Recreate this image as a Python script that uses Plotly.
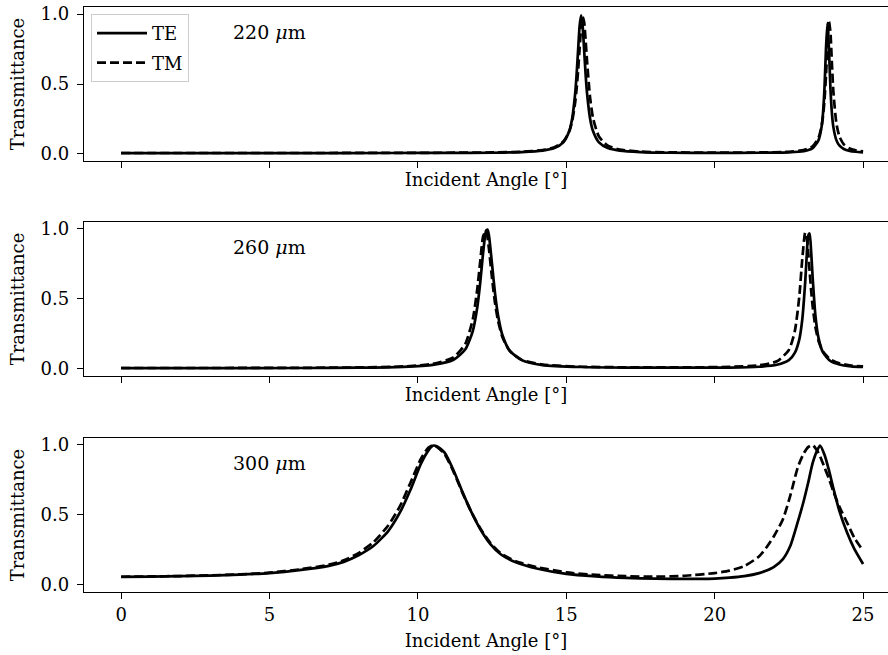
import plotly.graph_objects as go

# ---------------- data ----------------
angle_220 = [0, 3, 6, 9, 11, 12.5, 13.5, 14.2, 14.6, 14.9, 15.1, 15.2, 15.3, 15.35, 15.4, 15.45,
             15.5, 15.55, 15.6, 15.65, 15.7, 15.8, 15.9, 16.1, 16.4, 16.8, 17.5, 18.5, 20, 21.5,
             22.5, 23.0, 23.3, 23.5, 23.6, 23.65, 23.7, 23.75, 23.8, 23.85, 23.9, 23.95, 24.0,
             24.1, 24.2, 24.35, 24.55, 24.75, 25.0]
te_220 = [0.006, 0.006, 0.006, 0.007, 0.008, 0.009, 0.014, 0.024, 0.042, 0.083, 0.164, 0.256,
          0.433, 0.574, 0.748, 0.917, 0.991, 0.917, 0.748, 0.574, 0.433, 0.256, 0.164, 0.083,
          0.042, 0.024, 0.014, 0.009, 0.008, 0.009, 0.012, 0.020, 0.042, 0.099, 0.192, 0.292,
          0.471, 0.750, 0.936, 0.750, 0.471, 0.292, 0.192, 0.099, 0.061, 0.036, 0.022, 0.016,
          0.012]
tm_220 = [0.007, 0.007, 0.007, 0.008, 0.009, 0.011, 0.016, 0.028, 0.048, 0.089, 0.162, 0.237,
          0.369, 0.471, 0.601, 0.756, 0.901, 0.980, 0.944, 0.818, 0.661, 0.407, 0.258, 0.125,
          0.059, 0.032, 0.017, 0.012, 0.010, 0.011, 0.016, 0.028, 0.055, 0.116, 0.196, 0.269,
          0.383, 0.558, 0.786, 0.946, 0.870, 0.646, 0.444, 0.221, 0.127, 0.069, 0.039, 0.027,
          0.019]

angle_260 = [0, 3, 6, 8, 9.5, 10.5, 11.2, 11.6, 11.85, 12.0, 12.1, 12.2, 12.3, 12.35, 12.4, 12.5,
             12.6, 12.7, 12.85, 13.1, 13.5, 14.2, 15.5, 17, 19, 20.5, 21.5, 22.1, 22.5, 22.7,
             22.85, 22.95, 23.05, 23.1, 23.15, 23.2, 23.25, 23.3, 23.4, 23.5, 23.65, 23.9, 24.2,
             24.6, 25.0]
te_260 = [0.006, 0.006, 0.007, 0.009, 0.015, 0.029, 0.066, 0.141, 0.271, 0.439, 0.616, 0.833,
          0.989, 0.995, 0.945, 0.745, 0.538, 0.384, 0.241, 0.129, 0.063, 0.028, 0.014, 0.010,
          0.009, 0.010, 0.016, 0.030, 0.063, 0.115, 0.210, 0.351, 0.621, 0.804, 0.952, 0.968,
          0.839, 0.657, 0.370, 0.220, 0.118, 0.057, 0.032, 0.019, 0.014]
tm_260 = [0.007, 0.007, 0.008, 0.011, 0.018, 0.036, 0.083, 0.181, 0.355, 0.569, 0.767, 0.948,
          0.987, 0.934, 0.848, 0.645, 0.470, 0.345, 0.226, 0.127, 0.065, 0.031, 0.016, 0.012,
          0.011, 0.015, 0.026, 0.055, 0.136, 0.270, 0.514, 0.782, 0.974, 0.945, 0.837, 0.696,
          0.562, 0.449, 0.292, 0.200, 0.124, 0.068, 0.041, 0.025, 0.018]

angle_300 = [0, 1, 2, 3, 4, 5, 6, 7, 7.5, 8, 8.5, 9, 9.4, 9.75, 10.1, 10.35, 10.5, 10.65, 10.9,
             11.2, 11.5, 11.8, 12.1, 12.45, 12.8, 13.3, 14, 15, 16, 17, 18, 19, 20, 20.5, 21,
             21.5, 21.75, 22, 22.3, 22.55, 22.8, 23.0, 23.15, 23.3, 23.45, 23.55, 23.7, 23.85,
             24.0, 24.2, 24.45, 24.7, 25.0]
te_300 = [0.058, 0.060, 0.063, 0.067, 0.074, 0.085, 0.106, 0.137, 0.165, 0.212, 0.278, 0.385,
          0.520, 0.680, 0.865, 0.960, 0.995, 0.990, 0.945, 0.820, 0.665, 0.522, 0.400, 0.290,
          0.218, 0.162, 0.118, 0.080, 0.062, 0.051, 0.045, 0.043, 0.046, 0.052, 0.063, 0.085,
          0.104, 0.130, 0.185, 0.280, 0.450, 0.600, 0.730, 0.870, 0.960, 0.995, 0.930, 0.820,
          0.690, 0.530, 0.380, 0.260, 0.150]
tm_300 = [0.059, 0.061, 0.064, 0.069, 0.076, 0.088, 0.111, 0.145, 0.176, 0.228, 0.305, 0.425,
          0.565, 0.730, 0.900, 0.980, 0.998, 0.985, 0.935, 0.810, 0.660, 0.522, 0.405, 0.298,
          0.225, 0.170, 0.128, 0.090, 0.072, 0.063, 0.059, 0.066, 0.085, 0.103, 0.135, 0.205,
          0.270, 0.350, 0.470, 0.640, 0.840, 0.940, 0.985, 1.000, 0.960, 0.920, 0.840, 0.760,
          0.667, 0.560, 0.450, 0.340, 0.245]

panel_labels = ["220 <i>μ</i>m", "260 <i>μ</i>m", "300 <i>μ</i>m"]
series_names = ["TE", "TM"]
x_ticks = [0, 5, 10, 15, 20, 25]
y_ticks = [0.0, 0.5, 1.0]
y_tick_text = ["0.0", "0.5", "1.0"]
x_title = "Incident Angle [°]"
y_title = "Transmittance"

# ---------------- figure ----------------
FONT = "DejaVu Serif"
panels = [(angle_220, te_220, tm_220), (angle_260, te_260, tm_260), (angle_300, te_300, tm_300)]
domains = [[0.7542, 0.9893], [0.4260, 0.6611], [0.0962, 0.3313]]

fig = go.Figure()
for i, (ang, te, tm) in enumerate(panels):
    sfx = "" if i == 0 else str(i + 1)
    fig.add_trace(go.Scatter(x=ang, y=te, mode="lines", name=series_names[0],
                             line=dict(color="black", width=2.7, shape="spline", smoothing=0.6),
                             xaxis="x" + sfx, yaxis="y" + sfx, showlegend=(i == 0),
                             legendgroup="te", legendrank=1))
    fig.add_trace(go.Scatter(x=ang, y=tm, mode="lines", name=series_names[1],
                             line=dict(color="black", width=2.7, dash="9px,4px",
                                       shape="spline", smoothing=0.6),
                             xaxis="x" + sfx, yaxis="y" + sfx, showlegend=(i == 0),
                             legendgroup="tm", legendrank=2))

layout = dict(
    width=888, height=655,
    margin=dict(l=0, r=0, t=0, b=0),
    paper_bgcolor="white", plot_bgcolor="white",
    font=dict(family=FONT, size=18, color="black"),
    showlegend=True,
    legend=dict(x=91 / 888, y=1 - 14 / 655, xanchor="left", yanchor="top",
                bgcolor="rgba(255,255,255,0.8)", bordercolor="#cccccc", borderwidth=1,
                font=dict(family=FONT, size=18), tracegroupgap=3, itemwidth=50,
                traceorder="grouped"),
)

annotations = []
for i in range(3):
    sfx = "" if i == 0 else str(i + 1)
    last = (i == 2)
    layout["xaxis" + sfx] = dict(
        domain=[84 / 888, 1.0], anchor="y" + sfx,
        range=[-1.25, 25.84], tickvals=x_ticks, ticktext=[str(v) for v in x_ticks],
        showticklabels=last, ticks="outside", ticklen=6, tickwidth=1.2, tickcolor="black",
        showline=True, mirror=True, linecolor="black", linewidth=1.3,
        showgrid=False, zeroline=False,
        tickfont=dict(family=FONT, size=18),
        title=dict(text=x_title, font=dict(family=FONT, size=18),
                   standoff=(10 if last else 6)),
        automargin=False,
    )
    layout["yaxis" + sfx] = dict(
        domain=domains[i], anchor="x" + sfx,
        range=[-0.05, 1.05], tickvals=y_ticks, ticktext=y_tick_text,
        ticks="outside", ticklen=6, tickwidth=1.2, tickcolor="black",
        ticklabelstandoff=4,
        showline=True, mirror=False, linecolor="black", linewidth=1.3,
        showgrid=False, zeroline=False,
        tickfont=dict(family=FONT, size=18),
        title=dict(text=y_title, font=dict(family=FONT, size=18), standoff=11),
        automargin=False,
    )
    annotations.append(dict(text=panel_labels[i], x=3.7, y=0.87, xref="x" + sfx, yref="y" + sfx,
                            xanchor="left", yanchor="middle", showarrow=False,
                            font=dict(family=FONT, size=19, color="black")))

layout["annotations"] = annotations
fig.update_layout(**layout)
fig.write_html("out.html",
               config={"displayModeBar": False},
               post_script="document.body.style.margin='0';document.body.style.padding='0';"
                           "document.body.style.overflow='hidden';")
